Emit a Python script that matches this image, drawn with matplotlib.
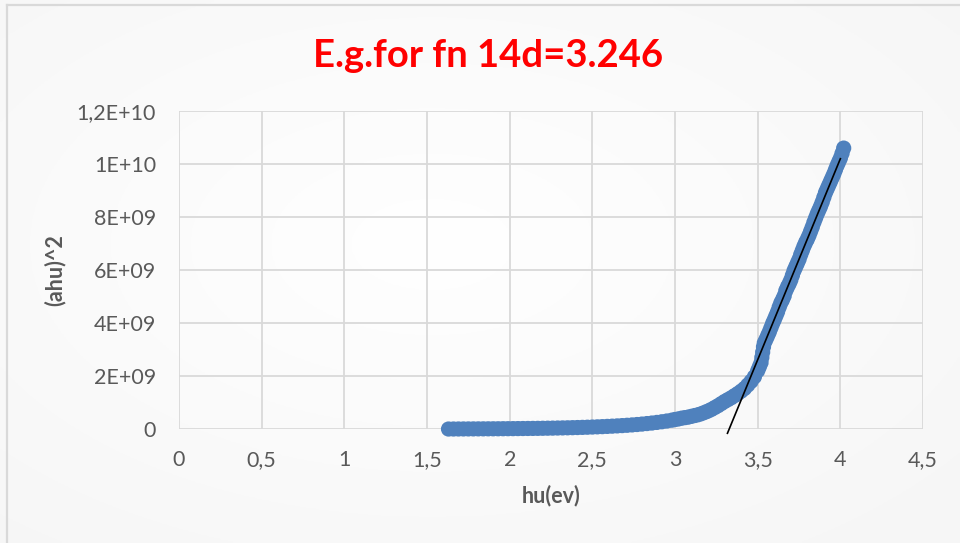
import numpy as np
import matplotlib.pyplot as plt

plt.rcParams['font.family'] = ['Lato', 'DejaVu Sans']

# photon energy hv (eV) and (alpha*h*v)^2 in units of 1E+09
hv = [1.63, 1.66, 1.69, 1.72, 1.75, 1.78, 1.81, 1.84, 1.87, 1.90,
      1.93, 1.96, 1.99, 2.02, 2.05, 2.08, 2.11, 2.14, 2.17, 2.20,
      2.23, 2.26, 2.29, 2.32, 2.35, 2.38, 2.41, 2.44, 2.47, 2.50,
      2.53, 2.56, 2.59, 2.62, 2.65, 2.68, 2.71, 2.74, 2.77, 2.80,
      2.83, 2.86, 2.89, 2.92, 2.95, 2.98,
      3.00, 3.02, 3.04, 3.06, 3.08, 3.10, 3.12, 3.14, 3.16, 3.18,
      3.20, 3.22, 3.24, 3.26, 3.28, 3.30, 3.32, 3.34, 3.36, 3.38,
      3.40, 3.42, 3.44, 3.46, 3.48, 3.50, 3.51,
      3.52, 3.525, 3.53, 3.535, 3.54,
      3.55, 3.56, 3.57, 3.58, 3.59, 3.60, 3.61, 3.62, 3.63, 3.64,
      3.65, 3.66, 3.67, 3.68, 3.69, 3.70, 3.71, 3.72, 3.73, 3.74,
      3.75, 3.76, 3.77, 3.78, 3.79, 3.80, 3.81, 3.82, 3.83, 3.84,
      3.85, 3.86, 3.87, 3.88, 3.89, 3.90, 3.91, 3.92, 3.93, 3.94,
      3.95, 3.96, 3.97, 3.98, 3.99, 4.00, 4.01, 4.02]
ahv2_e9 = [0.000, 0.001, 0.002, 0.003, 0.004, 0.005, 0.006, 0.007, 0.008, 0.009,
           0.010, 0.012, 0.013, 0.015, 0.017, 0.019, 0.021, 0.023, 0.025, 0.028,
           0.031, 0.034, 0.038, 0.042, 0.046, 0.051, 0.056, 0.062, 0.068, 0.075,
           0.082, 0.090, 0.099, 0.108, 0.118, 0.129, 0.141, 0.155, 0.170, 0.187,
           0.206, 0.226, 0.249, 0.274, 0.302, 0.333,
           0.36, 0.38, 0.41, 0.43, 0.45, 0.48, 0.51, 0.54, 0.58, 0.63,
           0.68, 0.74, 0.81, 0.88, 0.96, 1.04, 1.11, 1.18, 1.26, 1.34,
           1.43, 1.53, 1.66, 1.80, 1.97, 2.20, 2.35,
           2.50, 2.70, 2.90, 3.10, 3.25,
           3.38, 3.52, 3.66, 3.82, 3.98, 4.12, 4.27, 4.42, 4.60, 4.76,
           4.88, 5.02, 5.22, 5.36, 5.48, 5.62, 5.80, 5.98, 6.12, 6.26,
           6.40, 6.58, 6.74, 6.90, 7.04, 7.16, 7.30, 7.46, 7.62, 7.80,
           7.96, 8.12, 8.26, 8.40, 8.56, 8.74, 8.92, 9.06, 9.20, 9.34,
           9.48, 9.62, 9.78, 9.94, 10.08, 10.22, 10.40, 10.60]

# tangent drawn on the linear part
fit_hv = [3.317, 4.00]
fit_ahv2 = [-0.16e9, 10.2e9]

x_ticks = [0, 0.5, 1, 1.5, 2, 2.5, 3, 3.5, 4, 4.5]
x_tick_labels = ['0', '0,5', '1', '1,5', '2', '2,5', '3', '3,5', '4', '4,5']
y_ticks = [0, 2e9, 4e9, 6e9, 8e9, 1e10, 1.2e10]
y_tick_labels = ['0', '2E+09', '4E+09', '6E+09', '8E+09', '1E+10', '1,2E+10']

text_grey = '#595959'
grid_grey = '#d9d9d9'

fig = plt.figure(figsize=(9.6, 5.43), dpi=100)

# soft background shading, white in the middle, faintly grey at the edges
bg = fig.add_axes([0, 0, 1, 1], zorder=-10)
yy, xx = np.mgrid[0:1:200j, 0:1:300j]
r = np.clip(np.sqrt(((xx - 0.45) / 0.75) ** 2 + ((yy - 0.45) / 0.75) ** 2), 0, 1)
shade = 1.0 - 0.035 * r
bg.imshow(np.dstack([shade, shade, shade]), extent=[0, 1, 0, 1],
          aspect='auto', origin='upper')
bg.set_xlim(0, 1)
bg.set_ylim(0, 1)
bg.axis('off')
# chart border (top and left edges)
bg.plot([0.0068, 0.0068], [0, 0.991], color=grid_grey, lw=1.6)
bg.plot([0.0068, 1], [0.991, 0.991], color=grid_grey, lw=1.6)

ax = fig.add_axes([0.1865, 0.2099, 0.775, 0.5857])
ax.patch.set_alpha(0)

ax.scatter(hv, np.array(ahv2_e9) * 1e9, s=120, color='#4f81bd',
           edgecolors='none', zorder=3, clip_on=False)
ax.plot(fit_hv, fit_ahv2, color='black', lw=1.2, zorder=4, clip_on=False)

ax.set_xlim(0, 4.5)
ax.set_ylim(0, 1.2e10)
ax.set_xticks(x_ticks)
ax.set_xticklabels(x_tick_labels)
ax.set_yticks(y_ticks)
ax.set_yticklabels(y_tick_labels)
ax.tick_params(length=0, labelsize=15.5, colors=text_grey)
ax.tick_params(axis='x', pad=15)
ax.tick_params(axis='y', pad=16.5)
ax.grid(True, color=grid_grey, lw=1.3)
ax.set_axisbelow(True)
for s in ax.spines.values():
    s.set_visible(False)

ax.set_xlabel('hu(ev)', fontsize=15.5, fontweight='bold', color=text_grey)
ax.set_ylabel('(ahu)^2', fontsize=15.5, fontweight='bold', color=text_grey)
ax.xaxis.set_label_coords(0.5, -0.175)
ax.yaxis.set_label_coords(-0.152, 0.5)

fig.text(0.508, 0.897, 'E.g.for fn 14d=3.246', ha='center', va='center',
         fontsize=27.5, fontweight='bold', color='#ff0000')

fig.savefig('out.png', dpi=100)
